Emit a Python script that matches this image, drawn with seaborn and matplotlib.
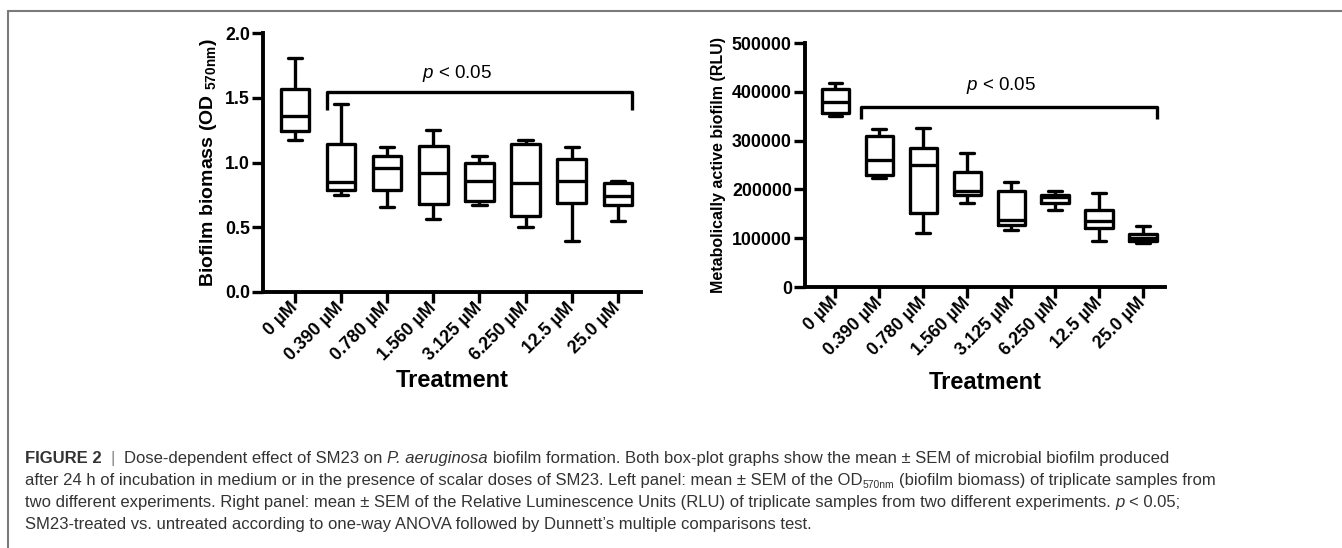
import numpy as np
import pandas as pd
import matplotlib
matplotlib.use("Agg")
import matplotlib.pyplot as plt
from matplotlib.lines import Line2D
import seaborn as sns

# ---------------- data ----------------
categories = ['0 µM', '0.390 µM', '0.780 µM', '1.560 µM', '3.125 µM',
              '6.250 µM', '12.5 µM', '25.0 µM']

bio_min = [1.17, 0.75, 0.66, 0.56, 0.675, 0.50, 0.39, 0.55]
bio_q1 = [1.24, 0.79, 0.79, 0.68, 0.70, 0.59, 0.69, 0.67]
bio_med = [1.36, 0.85, 0.96, 0.92, 0.86, 0.84, 0.86, 0.74]
bio_q3 = [1.57, 1.14, 1.05, 1.13, 1.00, 1.14, 1.03, 0.84]
bio_max = [1.81, 1.45, 1.12, 1.25, 1.05, 1.17, 1.12, 0.86]

rlu_min = [350000, 223000, 111000, 172000, 116000, 157000, 94000, 91000]
rlu_q1 = [357000, 229000, 152000, 188000, 128000, 172000, 121000, 94000]
rlu_med = [379000, 261000, 251000, 196000, 137000, 184000, 135000, 101000]
rlu_q3 = [405000, 309000, 285000, 236000, 196000, 189000, 158000, 109000]
rlu_max = [418000, 324000, 326000, 275000, 215000, 196000, 193000, 125000]

bio_ticks = [0.0, 0.5, 1.0, 1.5, 2.0]
rlu_ticks = [0, 100000, 200000, 300000, 400000, 500000]


def long_df(mins, q1s, meds, q3s, maxs):
    rows = []
    for c, a, b, m, d, e in zip(categories, mins, q1s, meds, q3s, maxs):
        for v in (a, b, m, d, e):
            rows.append({'treatment': c, 'value': v})
    return pd.DataFrame(rows)


df_bio = long_df(bio_min, bio_q1, bio_med, bio_q3, bio_max)
df_rlu = long_df(rlu_min, rlu_q1, rlu_med, rlu_q3, rlu_max)

# ---------------- style ----------------
sns.set_style("ticks")
plt.rcParams['font.family'] = ['Liberation Sans', 'DejaVu Sans']
plt.rcParams['mathtext.fontset'] = 'custom'
plt.rcParams['mathtext.rm'] = 'Liberation Sans:bold'
plt.rcParams['mathtext.bf'] = 'Liberation Sans:bold'
plt.rcParams['mathtext.it'] = 'Liberation Sans:italic'
for key in ('text.color', 'axes.labelcolor', 'xtick.color', 'ytick.color'):
    plt.rcParams[key] = 'black'

W, H = 1342, 548
fig = plt.figure(figsize=(W / 100, H / 100), dpi=100)
fig.patch.set_facecolor('white')

ax1 = fig.add_axes([263 / W, 1 - 292 / H, (641 - 263) / W, (292 - 33) / H])
ax2 = fig.add_axes([805 / W, 1 - 287 / H, (1165 - 805) / W, (287 - 43) / H])

box_kw = dict(x='treatment', y='value', order=categories, whis=(0, 100),
              fill=False, color='black', width=0.62, linewidth=2.4)
sns.boxplot(data=df_bio, ax=ax1, **box_kw)
sns.boxplot(data=df_rlu, ax=ax2, **box_kw)

tick_font = dict(fontsize=12.8, fontweight='bold', color='black')
for ax, ticks, lims in ((ax1, bio_ticks, (0, 2.0)), (ax2, rlu_ticks, (0, 500000))):
    ax.set_xlim(-0.69, 7.5)
    ax.set_ylim(*lims)
    ax.set_yticks(ticks)
    for s in ('top', 'right'):
        ax.spines[s].set_visible(False)
    for s in ('left', 'bottom'):
        ax.spines[s].set_linewidth(2.8)
        ax.spines[s].set_color('black')
    ax.tick_params(axis='both', width=2.4, length=8, color='black',
                   labelcolor='black', pad=1.5)
    ax.set_xticks(range(len(categories)))
    ax.set_xticklabels(categories, rotation=45, ha='right', va='center',
                       rotation_mode='anchor', **tick_font)
    for lab in ax.get_yticklabels():
        lab.set_fontsize(12.8)
        lab.set_fontweight('bold')
    ax.set_facecolor('white')

ax1.set_xlabel('Treatment', fontsize=17, fontweight='bold', labelpad=4,
               color='black')
ax2.set_xlabel('Treatment', fontsize=17, fontweight='bold', labelpad=9,
               color='black')

ax1.set_yticklabels(['%.1f' % t for t in bio_ticks])
ax2.set_yticklabels(['%d' % t for t in rlu_ticks])

ax1.set_ylabel(r'Biofilm biomass (OD $_{\mathregular{570nm}}$)', fontsize=14,
               fontweight='bold', labelpad=4, color='black')
ax2.set_ylabel('Metabolically active biofilm (RLU)', fontsize=11.5,
               fontweight='bold', labelpad=4, color='black')

# significance brackets
ax1.plot([0.7, 0.7, 7.31, 7.31], [1.406, 1.548, 1.548, 1.406], color='black',
         lw=2.4, solid_capstyle='butt', clip_on=False)
ax1.text(3.51, 1.69, r'$\it{p}$ < 0.05', ha='center', va='center',
         fontsize=13.5, color='black')
ax2.plot([0.59, 0.59, 7.32, 7.32], [345000, 369000, 369000, 345000], color='black',
         lw=2.4, solid_capstyle='butt', clip_on=False)
ax2.text(3.76, 413000, r'$\it{p}$ < 0.05', ha='center', va='center',
         fontsize=13.5, color='black')

# frame lines
gray = '#7a7a7a'
fig.add_artist(Line2D([8 / W, 1], [1 - 11 / H, 1 - 11 / H], color=gray, lw=1.5,
                      transform=fig.transFigure))
fig.add_artist(Line2D([8 / W, 8 / W], [1 - 11 / H, 0], color=gray, lw=1.5,
                      transform=fig.transFigure))

# ---------------- caption ----------------
cap_font = ['Liberation Sans', 'DejaVu Sans']
cap_size = 12.0
cap_color = '#333333'
renderer = fig.canvas.get_renderer()


def measure(txt, **kw):
    t = fig.text(0, 0, txt, **kw)
    w = t.get_window_extent(renderer).width
    t.remove()
    return w


base_kw = dict(family=cap_font, fontsize=cap_size, color=cap_color)
space_w = measure('x x', **base_kw) - measure('xx', **base_kw)


def draw_runs(x_px, y_px, runs):
    x = x_px
    for txt, kw in runs:
        k = dict(base_kw)
        dy = kw.pop('dy', 0)
        k.update(kw)
        lead = len(txt) - len(txt.lstrip(' '))
        trail = len(txt) - len(txt.rstrip(' '))
        body = txt.strip(' ')
        x += lead * space_w
        if body:
            t = fig.text(x / W, 1 - (y_px + dy) / H, body, va='baseline', ha='left', **k)
            x += t.get_window_extent(renderer).width
        x += trail * space_w


draw_runs(25, 463, [
    ('FIGURE 2', dict(fontweight='bold')),
    ('  |  ', dict(color='#888888')),
    ('Dose-dependent effect of SM23 on ', {}),
    ('P. aeruginosa', dict(style='italic')),
    (' biofilm formation. Both box-plot graphs show the mean ± SEM of microbial biofilm produced', {}),
])
draw_runs(25, 485, [
    ('after 24 h of incubation in medium or in the presence of scalar doses of SM23. Left panel: mean ± SEM of the OD', {}),
    ('570nm', dict(fontsize=7.5, dy=3)),
    (' (biofilm biomass) of triplicate samples from', {}),
])
draw_runs(25, 507, [
    ('two different experiments. Right panel: mean ± SEM of the Relative Luminescence Units (RLU) of triplicate samples from two different experiments. ', {}),
    ('p', dict(style='italic')),
    (' < 0.05;', {}),
])
draw_runs(25, 529, [
    ('SM23-treated vs. untreated according to one-way ANOVA followed by Dunnett’s multiple comparisons test.', {}),
])

fig.savefig('out.png', dpi=100, facecolor='white')
